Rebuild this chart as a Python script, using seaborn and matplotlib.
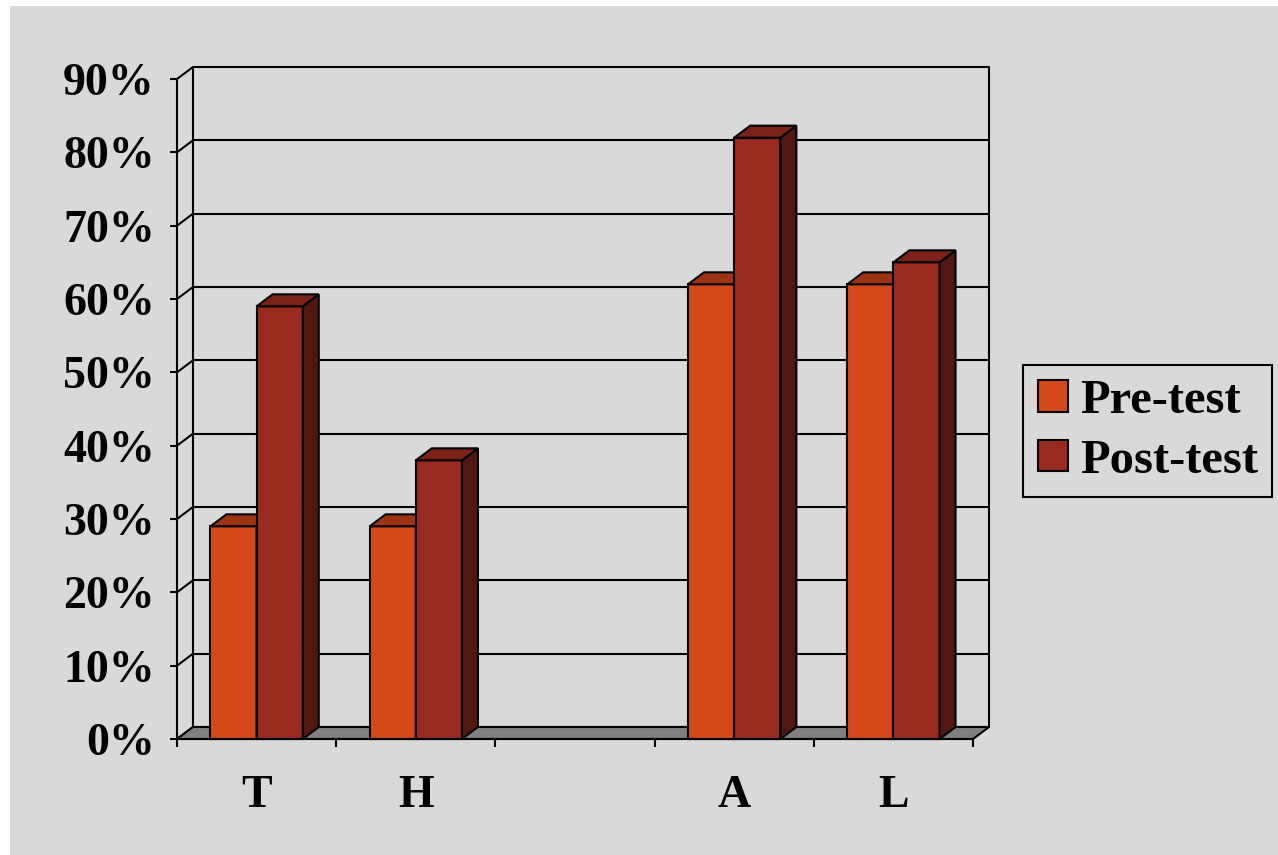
import matplotlib
matplotlib.use("Agg")
import matplotlib.pyplot as plt
from matplotlib.patches import Polygon, Rectangle, Patch
from matplotlib.colors import to_rgba
import numpy as np
import pandas as pd
import seaborn as sns

# Scores per skill area (percent); the fourth slot is an empty category
categories = ["T", "H", " ", "A", "L"]
pre_test = [29, 29, None, 62, 62]
post_test = [59, 38, None, 82, 65]
series_names = ["Pre-test", "Post-test"]
y_ticks = [0, 10, 20, 30, 40, 50, 60, 70, 80, 90]
y_tick_labels = [f"{v}%" for v in y_ticks]

# Face colours: front, top, side for each series
front_colors = {"Pre-test": "#D4491A", "Post-test": "#992A1F"}
top_colors = {"Pre-test": "#9C3413", "Post-test": "#7B2118"}
side_colors = {"Pre-test": "#5E1E0B", "Post-test": "#521711"}
bg = "#D9D9D9"
floor_color = "#808080"

rows = []
for cat, a, b in zip(categories, pre_test, post_test):
    if a is not None:
        rows.append({"category": cat, "test": "Pre-test", "score": a})
    if b is not None:
        rows.append({"category": cat, "test": "Post-test", "score": b})
df = pd.DataFrame(rows)

sns.set_theme(style="white")
plt.rcParams["font.family"] = ["Liberation Serif", "DejaVu Serif"]
plt.rcParams["font.weight"] = "bold"
plt.rcParams["text.color"] = "black"
plt.rcParams["xtick.labelcolor"] = "black"
plt.rcParams["ytick.labelcolor"] = "black"

W, H = 1278, 855
fig = plt.figure(figsize=(W / 100, H / 100), dpi=100)
fig.patch.set_facecolor(bg)
# thin white margin along the top and left edges
fig.patches.append(Rectangle((0, 0), 10 / W, 1, transform=fig.transFigure,
                             facecolor="white", edgecolor="none", zorder=-10))
fig.patches.append(Rectangle((0, 1 - 6 / H), 1, 6 / H, transform=fig.transFigure,
                             facecolor="white", edgecolor="none", zorder=-10))

ax = fig.add_axes([177 / W, (H - 739) / H, 796 / W, 660 / H])
ax.set_facecolor("none")

sns.barplot(data=df, x="category", y="score", hue="test", order=categories,
            hue_order=series_names, palette=[front_colors[s] for s in series_names],
            width=0.58, saturation=1, edgecolor="black", linewidth=1.5,
            legend=False, ax=ax)

ax.set_xlim(-0.5, len(categories) - 0.5)
ax.set_ylim(0, 90)
x0, x1 = ax.get_xlim()
y0, y1 = ax.get_ylim()

# Depth offset of the 3D box, expressed in data units
p0 = ax.transData.transform((0, 0))
d = ax.transData.inverted().transform(p0 + np.array([16, 12]))
dx, dy = d[0], d[1]

lw = 1.5
# Back wall with gridlines, plus the diagonal lines along the left wall
for v in y_ticks:
    ax.plot([x0 + dx, x1 + dx], [v + dy, v + dy], color="black", lw=lw,
            clip_on=False, zorder=1)
    ax.plot([x0, x0 + dx], [v, v + dy], color="black", lw=lw,
            clip_on=False, zorder=1)
ax.plot([x0 + dx, x0 + dx], [y0 + dy, y1 + dy], color="black", lw=lw,
        clip_on=False, zorder=1)
ax.plot([x1 + dx, x1 + dx], [y0 + dy, y1 + dy], color="black", lw=lw,
        clip_on=False, zorder=1)

# Floor
ax.add_patch(Polygon([(x0, 0), (x1, 0), (x1 + dx, dy), (x0 + dx, dy)],
                     closed=True, facecolor=floor_color, edgecolor="black",
                     lw=lw, clip_on=False, zorder=1.5))

# Extrude every bar into a box: top and right side faces
bars = [p for p in ax.patches if isinstance(p, Rectangle) and p.get_height() > 0]
for bar in bars:
    fc = bar.get_facecolor()
    series = min(series_names,
                 key=lambda s: np.sum(np.abs(np.array(to_rgba(front_colors[s])) - np.array(fc))))
    base_z = 3 if series == "Pre-test" else 5
    bx, bw, bh = bar.get_x(), bar.get_width(), bar.get_height()
    bar.set_zorder(base_z)
    bar.set_clip_on(False)
    top = Polygon([(bx, bh), (bx + bw, bh), (bx + bw + dx, bh + dy), (bx + dx, bh + dy)],
                  closed=True, facecolor=top_colors[series], edgecolor="black",
                  lw=lw, joinstyle="miter", clip_on=False, zorder=base_z + 0.5)
    side = Polygon([(bx + bw, 0), (bx + bw, bh), (bx + bw + dx, bh + dy), (bx + bw + dx, dy)],
                   closed=True, facecolor=side_colors[series], edgecolor="black",
                   lw=lw, joinstyle="miter", clip_on=False, zorder=base_z + 0.5)
    ax.add_patch(side)
    ax.add_patch(top)

# Axes, ticks and labels
for s in ["top", "right"]:
    ax.spines[s].set_visible(False)
for s in ["left", "bottom"]:
    ax.spines[s].set_color("black")
    ax.spines[s].set_linewidth(lw)
    ax.spines[s].set_zorder(6)

label_font = {"family": ["Liberation Serif", "DejaVu Serif"], "weight": "bold",
              "size": 33, "color": "black"}
ax.set_yticks(y_ticks)
ax.set_yticklabels(y_tick_labels, fontdict=label_font)
ax.set_xticks(range(len(categories)))
ax.set_xticklabels(categories, fontdict=label_font)
ax.set_xticks(np.arange(-0.5, len(categories)), minor=True)
ax.tick_params(axis="y", which="major", length=5, width=lw, color="black",
               direction="out", pad=11, left=True)
ax.tick_params(axis="x", which="major", length=0, pad=26, bottom=True)
ax.tick_params(axis="x", which="minor", length=6, width=lw, color="black",
               direction="out", bottom=True)
ax.set_xlabel("")
ax.set_ylabel("")

handles = [Patch(facecolor=front_colors[s], edgecolor="black", lw=lw) for s in series_names]
leg = fig.legend(handles, series_names, loc="center left",
                 bbox_to_anchor=(1023 / W, (H - 431) / H),
                 bbox_transform=fig.transFigure,
                 prop={"family": ["Liberation Serif", "DejaVu Serif"], "weight": "bold", "size": 35},
                 frameon=True, fancybox=False, facecolor=bg, edgecolor="black",
                 framealpha=1, handlelength=0.62, handleheight=0.62,
                 handletextpad=0.25, labelspacing=0.32, borderpad=0.3,
                 borderaxespad=0, labelcolor="black")
leg.get_frame().set_linewidth(lw)

fig.savefig("out.png", dpi=100, facecolor=fig.get_facecolor())
